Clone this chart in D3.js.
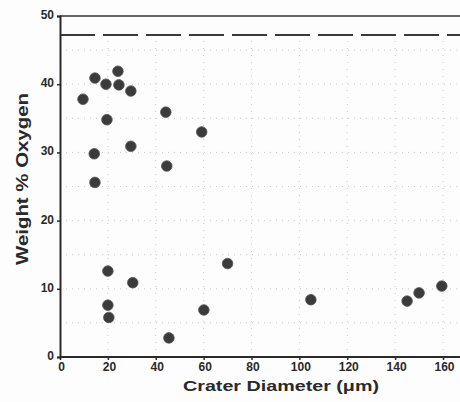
<!DOCTYPE html>
<html>
<head>
<meta charset="utf-8">
<script src="https://cdn.jsdelivr.net/npm/d3@7"></script>
<style>
  body { margin: 0; background: #fdfdfd; }
  text { font-family: "Liberation Sans", Arial, sans-serif; font-weight: bold; fill: #2a2a2a; }
</style>
</head>
<body>
<div id="chart"></div>
<script>
var width = 460;
var height = 402;

// crater diameter (um) and weight % oxygen
var diameter = [9.6, 14.6, 19.2, 24.2, 24.6, 29.6, 19.6, 44.2, 59.2, 14.3, 29.6, 14.6, 44.6,
                20, 30.4, 20, 20.4, 45.5, 60.1, 70, 104.8, 145, 150, 159.5];
var oxygen = [37.8, 40.9, 40, 41.9, 39.9, 39, 34.8, 35.9, 33, 29.8, 30.9, 25.6, 28,
              12.6, 10.9, 7.6, 5.8, 2.8, 6.9, 13.7, 8.4, 8.2, 9.4, 10.4];
var xTicks = [0, 20, 40, 60, 80, 100, 120, 140, 160];
var yTicks = [0, 10, 20, 30, 40, 50];
var refLevel = 47.2; // dashed reference line

var points = diameter.map(function(d, i){ return {x: d, y: oxygen[i]}; });

var x = d3.scaleLinear().domain([0, 160]).range([60, 443]);
var y = d3.scaleLinear().domain([0, 50]).range([357, 16]);

var svg = d3.select("#chart")
    .append("svg")
    .attr("width", width)
    .attr("height", height);

// faint dotted grid
svg.append("g")
    .selectAll("line")
    .data(d3.range(5, 50, 5))
    .enter()
        .append("line")
        .attr("x1", x(0)).attr("x2", width)
        .attr("y1", function(d){ return y(d); })
        .attr("y2", function(d){ return y(d); })
        .attr("stroke", "#c8c8c8")
        .attr("stroke-width", 1)
        .attr("stroke-dasharray", "1,5");

svg.append("g")
    .selectAll("line")
    .data(xTicks.slice(1))
    .enter()
        .append("line")
        .attr("x1", function(d){ return x(d); })
        .attr("x2", function(d){ return x(d); })
        .attr("y1", y(0)).attr("y2", y(refLevel))
        .attr("stroke", "#c8c8c8")
        .attr("stroke-width", 1)
        .attr("stroke-dasharray", "1,6");

// top frame line
svg.append("line")
    .attr("x1", x(0)).attr("x2", width)
    .attr("y1", y(50)).attr("y2", y(50))
    .attr("stroke", "#333")
    .attr("stroke-width", 1.5);

// dashed reference line
svg.append("line")
    .attr("x1", x(0)).attr("x2", width)
    .attr("y1", y(refLevel)).attr("y2", y(refLevel))
    .attr("stroke", "#3a3a3a")
    .attr("stroke-width", 2)
    .attr("stroke-dasharray", "35,8");

// axes
var xAxis = svg.append("g")
    .attr("transform", "translate(0," + y(0) + ")")
    .call(d3.axisBottom(x).tickValues(xTicks).tickSize(3).tickPadding(2));
var yAxis = svg.append("g")
    .attr("transform", "translate(" + x(0) + ",0)")
    .call(d3.axisLeft(y).tickValues(yTicks).tickSize(3).tickPadding(3));

xAxis.select(".domain").attr("d", "M" + x(0) + ",0H" + width);
[xAxis, yAxis].forEach(function(a){
    a.select(".domain").attr("stroke", "#2a2a2a").attr("stroke-width", 2);
    a.selectAll(".tick line").attr("stroke", "#2a2a2a").attr("stroke-width", 1.5);
    a.selectAll(".tick text")
        .attr("font-size", 12)
        .attr("font-family", "'Liberation Sans', Arial, sans-serif")
        .attr("font-weight", "bold")
        .attr("fill", "#2a2a2a");
});
xAxis.selectAll(".tick text").attr("dx", 1);
yAxis.selectAll(".tick text").attr("dy", "0.2em");

// data points
svg.append("g")
    .selectAll("circle")
    .data(points)
    .enter()
        .append("circle")
        .attr("cx", function(d){ return x(d.x); })
        .attr("cy", function(d){ return y(d.y); })
        .attr("r", 5.3)
        .attr("fill", "#3b3b3b")
        .attr("stroke", "#555")
        .attr("stroke-width", 0.8);

// axis titles
svg.append("text")
    .attr("x", 281)
    .attr("y", 391)
    .attr("text-anchor", "middle")
    .attr("font-size", 15)
    .attr("textLength", 196)
    .attr("lengthAdjust", "spacingAndGlyphs")
    .text("Crater Diameter (\u03bcm)");

svg.append("text")
    .attr("transform", "translate(28,179) rotate(-90)")
    .attr("text-anchor", "middle")
    .attr("font-size", 16)
    .attr("textLength", 172)
    .attr("lengthAdjust", "spacingAndGlyphs")
    .text("Weight % Oxygen");
</script>
</body>
</html>
